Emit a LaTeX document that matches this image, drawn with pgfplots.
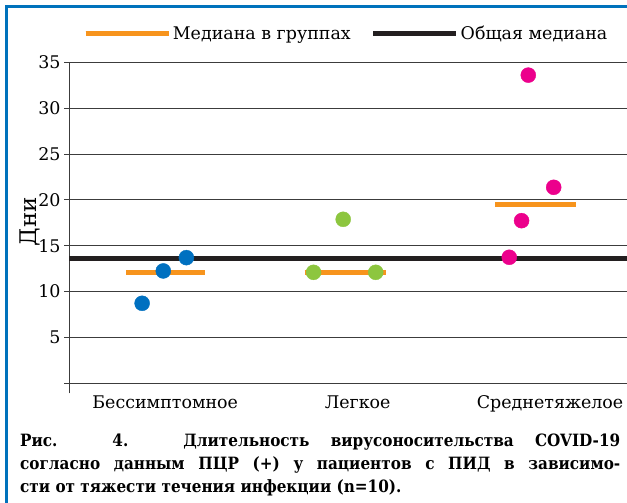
\documentclass[border=0pt]{standalone}
\usepackage{pgfplots}
\pgfplotsset{compat=1.18}
\usepackage{fontspec}
\setmainfont{DejaVu Serif}
\newfontfamily\capfont{DejaVu Serif Condensed}
\definecolor{frameblue}{RGB}{0,114,188}
\definecolor{ptblue}{RGB}{0,112,192}
\definecolor{ptgreen}{RGB}{141,198,63}
\definecolor{ptpink}{RGB}{236,0,140}
\definecolor{medorange}{RGB}{247,148,29}
\definecolor{medblack}{RGB}{35,31,32}
\definecolor{gridgray}{RGB}{60,60,60}
\begin{document}
\begin{tikzpicture}[x=1bp,y=1bp]
\useasboundingbox (0,0) rectangle (627,503);
\fill[white] (0,0) rectangle (627,503);
\draw[frameblue, line width=2.5bp] (6.5,0) -- (6.5,496.5) -- (627,496.5);
\begin{axis}[
  at={(69bp,119.7bp)}, anchor=south west,
  scale only axis, width=558bp, height=321bp,
  xmin=-0.5, xmax=2.4, ymin=0, ymax=35,
  axis x line=bottom, axis y line=left,
  axis line style={-, draw=gridgray, line width=0.8bp},
  y axis line style={shorten <=-10bp},
  xtick={0,1,2}, xticklabels={Бессимптомное,Легкое,Среднетяжелое},
  x tick style={draw=none},
  xticklabel style={yshift=-4bp},
  ytick={0,5,...,35}, yticklabels={,5,10,15,20,25,30,35},
  ymajorgrids, grid style={gridgray, line width=0.8bp},
  tick align=outside, major tick length=5bp,
  y tick style={draw=gridgray, line width=0.8bp},
  ticklabel style={font=\fontsize{17.5}{20}\selectfont},
  ylabel={\fontsize{23}{25}\selectfont Дни},
  ylabel style={at={(axis description cs:-0.0700,0.503)}, anchor=center},
  clip=false,
  legend style={at={(axis description cs:0.497,1.09)}, anchor=center, draw=none, fill=none,
    font=\fontsize{17.5}{20}\selectfont, legend columns=2,
    /tikz/every even column/.append style={column sep=18bp}},
  legend image code/.code={\draw[#1] (0bp,0bp) -- (79bp,0bp); \path (0bp,0bp) -- (83bp,0bp);},
  legend cell align=left,
]
\addlegendimage{medorange, line width=4.5bp}
\addlegendentry{Медиана в группах}
\addlegendimage{medblack, line width=5bp}
\addlegendentry{Общая медиана}
\addplot[medblack, line width=5bp, forget plot] coordinates {(-0.5,13.63) (2.4,13.63)};
\addplot[only marks, mark=*, mark size=7.5bp, ptblue, forget plot] coordinates {(-0.12,8.72) (-0.01,12.25) (0.11,13.70)};
\addplot[only marks, mark=*, mark size=7.5bp, ptgreen, forget plot] coordinates {(0.771,12.1) (0.925,17.88) (1.094,12.1)};
\addplot[only marks, mark=*, mark size=7.5bp, ptpink, forget plot] coordinates {(1.788,13.74) (1.852,17.73) (1.887,33.6) (2.019,21.37)};
\addplot[medorange, line width=4.5bp, forget plot] coordinates {(-0.203,12.1) (0.208,12.1)};
\addplot[medorange, line width=4.5bp, forget plot] coordinates {(0.724,12.1) (1.146,12.1)};
\addplot[medorange, line width=4.5bp, forget plot] coordinates {(1.714,19.52) (2.135,19.52)};
\end{axis}
\node[anchor=north west, inner sep=0pt, align=left, font=\capfont\bfseries\fontsize{17}{23}\selectfont] at (20,69)
{\makebox[600bp][s]{Рис. 4. Длительность вирусоносительства COVID-19}\\
 \makebox[600bp][s]{согласно данным ПЦР (+) у пациентов с ПИД в зависимо-}\\
 сти от тяжести течения инфекции (n=10).};
\end{tikzpicture}
\end{document}
